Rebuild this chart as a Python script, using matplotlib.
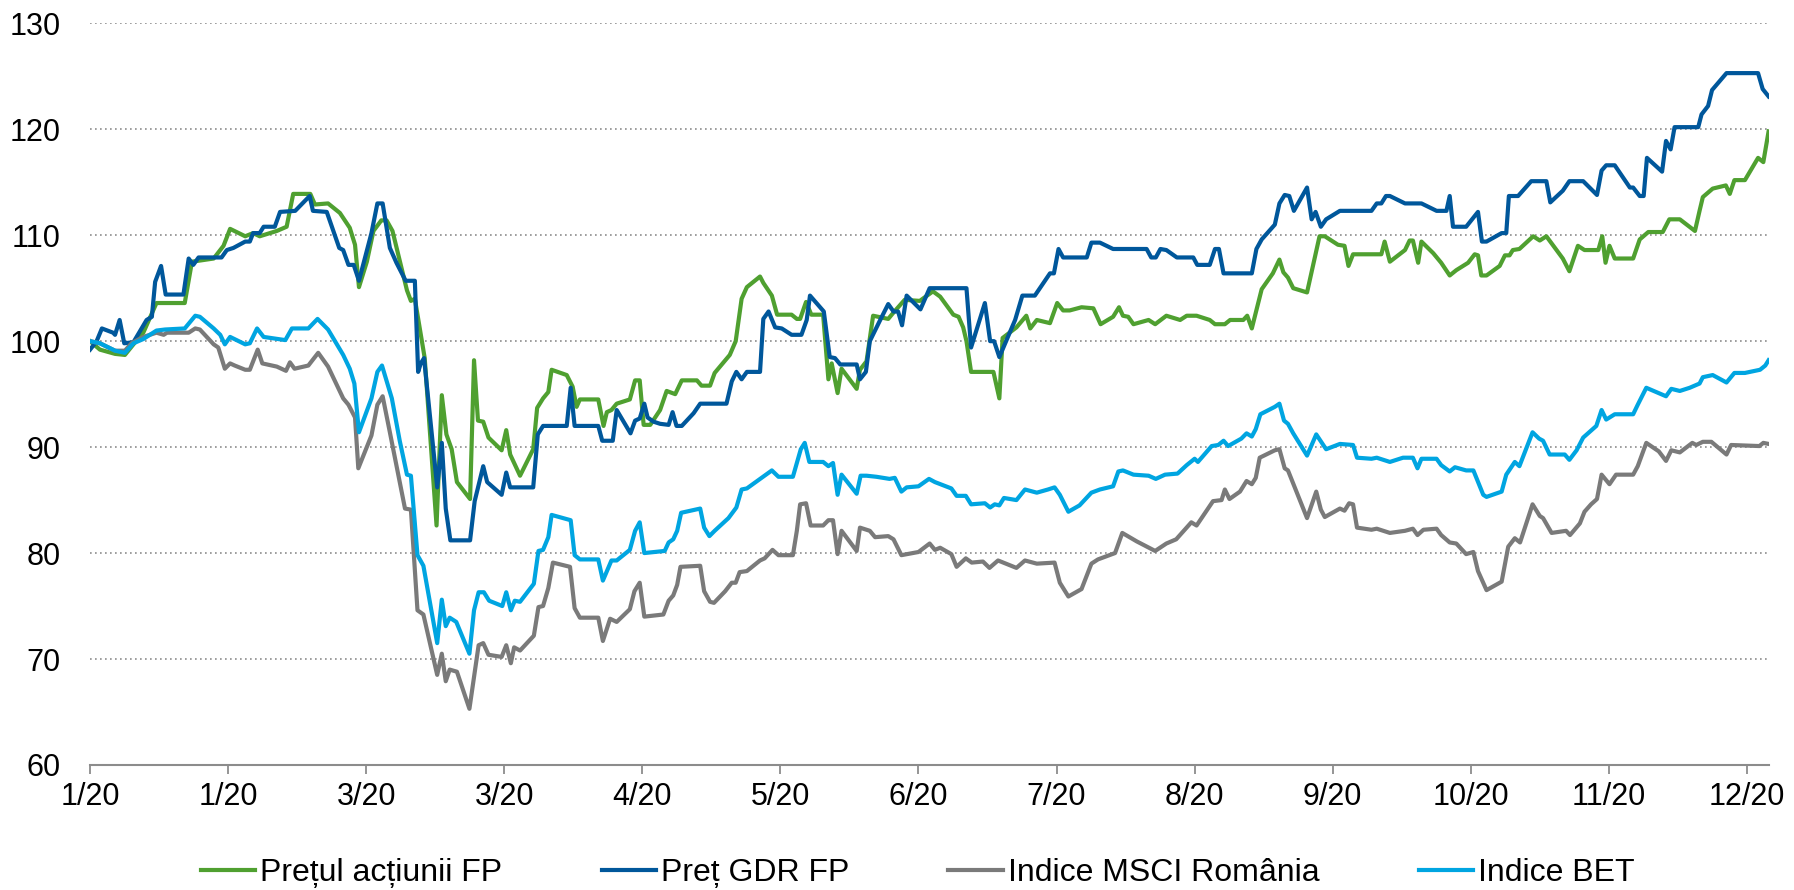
import matplotlib
matplotlib.use('Agg')
import matplotlib.pyplot as plt

# --- date (t = zi de tranzactionare, v = indice, baza 100) ---

# Pretul actiunii FP
fp_t = [0, 1.5, 3.8, 5.3, 6.6, 8.1, 10.1, 14.4, 15.5, 18.8, 20.3, 21.3, 23.6, 24.8, 25.8,
        28.4, 29.9, 30.9, 33.5, 34.2, 36.2, 38, 39.5, 40.3, 40.9, 42.1, 43.1, 44.3, 45.1, 46.0,
        48.2, 48.8, 49.4, 50.9, 52.7, 53.5, 54.2, 55, 55.8, 57.8, 58.4, 59, 59.8, 60.6, 62.6,
        63.3, 63.9, 65.4, 67.4, 68, 68.9, 69.7, 70.2, 72.5, 73.4, 74, 74.5, 77.3, 78.1, 78.6,
        79.3, 80.1, 82.1, 82.9, 83.6, 84.2, 85.2, 86.7, 87.7, 89, 90, 92.3, 93, 94.3, 95,
        97.3, 98.2, 99.1, 99.9, 101.9, 102.4, 103.7, 104.5, 106.7, 107.5, 108, 108.9, 109.7, 111.5, 112.3,
        112.8, 113.7, 114.3, 116.6, 117.1, 118.1, 119.1, 121.4, 122.2, 123.9, 126.2, 128.2, 129.3, 131.3, 132.1,
        132.8, 133.3, 134, 137.4, 138.3, 138.8, 140.9, 142.4, 143, 144, 146, 147.1, 148, 149, 150.8,
        152.6, 153.7, 155.6, 156.5, 157.1, 157.9, 158.7, 161, 162, 163.7, 165.8, 166.8, 168.3, 170.3, 171.1,
        172.6, 173.4, 175.4, 176, 176.7, 178.2, 179.9, 180.9, 181.5, 182.2, 183, 185.1, 187, 187.8, 189.8,
        190.8, 191.4, 192.1, 196.4, 196.9, 197.7, 200, 200.7, 201.2, 202, 202.5, 204.3, 205.5, 206.8, 207.8,
        209.6, 210.6, 211.1, 211.6, 212.4, 214.4, 215.2, 215.9, 216.4, 217.4, 219.5, 220.5, 221.5, 224, 225,
        226.3, 227.3, 229.4, 230, 230.5, 231.1, 231.9, 234.7, 235.7, 237, 239.2, 240.2, 241.8, 244.1, 244.8,
        245.3, 246.8, 248.8, 249.4, 250.1, 251.7, 253.7, 254.5, 255.3]
fp_v = [100, 99.2, 98.8, 98.7, 99.7, 100.8, 103.6, 103.6, 107.5, 107.8, 109, 110.6, 109.9, 110.2, 109.9,
        110.4, 110.8, 113.9, 113.9, 112.9, 113, 112.1, 110.7, 109.1, 105.1, 107.5, 110.4, 111.4, 111.4, 110.4,
        104.8, 103.8, 104, 98.4, 82.6, 94.9, 91.2, 89.8, 86.7, 85.1, 98.2, 92.5, 92.4, 90.9, 89.7,
        91.6, 89.3, 87.3, 89.8, 93.7, 94.6, 95.2, 97.3, 96.8, 95.7, 93.8, 94.5, 94.5, 92, 93.3,
        93.5, 94.1, 94.5, 96.3, 96.3, 92.1, 92.1, 93.5, 95.3, 95, 96.3, 96.3, 95.8, 95.8, 97,
        98.7, 100, 104, 105.1, 106.1, 105.5, 104.3, 102.5, 102.5, 102.1, 102.1, 103.7, 102.5, 102.5, 96.4,
        97.9, 95.1, 97.4, 95.5, 97.3, 98.1, 102.4, 102.1, 102.7, 103.9, 103.8, 104.7, 104.2, 102.5, 102.3,
        101.3, 100, 97.1, 97.1, 94.6, 100.3, 101.3, 102.4, 101.2, 102, 101.7, 103.6, 102.9, 102.9, 103.2,
        103.1, 101.6, 102.3, 103.2, 102.4, 102.3, 101.6, 102, 101.6, 102.4, 102, 102.4, 102.4, 102, 101.6,
        101.6, 102, 102, 102.4, 101.2, 104.9, 106.4, 107.7, 106.5, 106, 105, 104.6, 109.9, 109.9, 109.1,
        109, 107.1, 108.2, 108.2, 109.4, 107.5, 108.6, 109.5, 109.5, 107.4, 109.4, 108.3, 107.4, 106.2, 106.7,
        107.4, 108.2, 108.1, 106.2, 106.2, 107.1, 108.1, 108.1, 108.6, 108.7, 109.9, 109.5, 109.9, 107.8, 106.6,
        109, 108.6, 108.6, 109.9, 107.4, 109, 107.8, 107.8, 109.6, 110.3, 110.3, 111.5, 111.5, 110.4, 112.3,
        113.6, 114.4, 114.7, 113.9, 115.2, 115.2, 117.3, 116.9, 119.8]

# Pret GDR FP
gdr_t = [0, 1, 1.8, 3.5, 3.8, 4.5, 5.2, 6.6, 8.6, 9.4, 9.9, 10.8, 11.5, 14.2, 15,
         15.7, 16.5, 20, 20.8, 21.8, 23.6, 24.3, 24.8, 25.8, 26.4, 28.1, 28.9, 31.2, 33.4, 33.9,
         36, 37.9, 38.5, 39.3, 40.1, 40.9, 42.8, 43.7, 44.5, 45.6, 46.6, 48, 49.4, 49.9, 50.3,
         50.8, 52.8, 53.5, 54.1, 54.8, 57.8, 58.5, 59.8, 60.4, 62.6, 63.3, 63.9, 67.4, 68.1, 68.9,
         72.5, 73.1, 73.7, 77.3, 77.9, 79.5, 80.1, 82.2, 82.9, 83.6, 84.3, 84.8, 85.7, 86.7, 88,
         88.6, 89.2, 90, 91.8, 92.8, 96.8, 97.6, 98.3, 99.1, 99.9, 101.9, 102.4, 103.2, 104.2, 105.2,
         106.7, 108.2, 109, 109.5, 111.6, 112.5, 113.3, 114.1, 116.6, 117.1, 118, 118.6, 120.1, 121.4, 122.2,
         122.9, 123.5, 124.2, 126.3, 127.7, 133.3, 134, 136.1, 136.9, 137.5, 138.3, 140.7, 141.8, 143.7, 146,
         146.6, 147.3, 148, 151.6, 152.3, 153.6, 155.6, 160.7, 161.4, 162.1, 162.8, 163.7, 165.3, 167.8, 168.4,
         170.3, 171.1, 171.7, 172.4, 176.7, 177.4, 178.2, 180.2, 180.9, 181.7, 182.4, 183.1, 185.1, 185.8, 186.4,
         187.2, 188, 190.1, 194.9, 195.7, 196.4, 197.1, 197.7, 200, 202.5, 204.8, 206.3, 206.8, 207.3, 209.3,
         211.1, 211.7, 212.4, 214.7, 215.4, 215.8, 217.2, 219.2, 221.5, 222.1, 224, 225, 227.1, 229.2, 229.9,
         230.6, 231.9, 234.2, 234.7, 235.7, 236.3, 236.8, 239.1, 239.7, 240.4, 241, 244.6, 245.1, 246.1, 246.7,
         248.9, 253.7, 254.4, 255.3]
gdr_v = [99.2, 100, 101.2, 100.8, 100.6, 102, 99.8, 99.9, 102, 102.3, 105.6, 107.1, 104.4, 104.4, 107.8,
         107.2, 107.9, 107.9, 108.6, 108.8, 109.4, 109.4, 110.2, 110.2, 110.8, 110.8, 112.2, 112.3, 113.7, 112.3,
         112.2, 108.8, 108.6, 107.2, 107.2, 105.7, 110.2, 113, 113, 108.8, 107.4, 105.7, 105.7, 97.1, 97.9,
         98.4, 86.2, 90.4, 84.2, 81.2, 81.2, 84.9, 88.2, 86.7, 85.5, 87.6, 86.2, 86.2, 91.2, 92,
         92, 95.6, 92, 92, 90.6, 90.6, 93.5, 91.3, 92.5, 92.7, 94.1, 92.8, 92.4, 92.2, 92.1,
         93.3, 92, 92, 93.2, 94.1, 94.1, 96.2, 97.1, 96.4, 97.1, 97.1, 102.1, 102.8, 101.3, 101.2,
         100.6, 100.6, 102, 104.3, 102.8, 98.5, 98.4, 97.8, 97.8, 96.4, 97.1, 100, 101.9, 103.5, 102.8,
         102.8, 101.5, 104.3, 103, 105, 105, 99.4, 103.6, 100, 100, 98.5, 102, 104.3, 104.3, 106.4,
         106.4, 108.7, 107.9, 107.9, 109.3, 109.3, 108.7, 108.7, 107.9, 107.9, 108.7, 108.6, 107.9, 107.9, 107.2,
         107.2, 108.7, 108.7, 106.4, 106.4, 108.7, 109.6, 111, 113, 113.8, 113.7, 112.3, 114.5, 111.5, 112.2,
         110.8, 111.5, 112.3, 112.3, 113, 113, 113.7, 113.7, 113, 113, 112.3, 112.3, 113.7, 110.8, 110.8,
         112.2, 109.4, 109.4, 110.2, 110.2, 113.7, 113.7, 115.1, 115.1, 113.1, 114.2, 115.1, 115.1, 113.8, 116.1,
         116.6, 116.6, 114.5, 114.5, 113.7, 113.7, 117.3, 116, 118.9, 118.1, 120.2, 120.2, 121.4, 122.2, 123.7,
         125.3, 125.3, 123.8, 123.1]

# Indice MSCI Romania
msci_t = [0, 1.5, 3.8, 5.3, 6.3, 8.1, 10.1, 11.2, 11.7, 15, 16, 16.7, 18.8, 19.5, 20.5,
          21.3, 22, 23.6, 24.3, 25.5, 26.2, 28.4, 29.8, 30.4, 31.1, 33.2, 34.7, 36.2, 38.5, 39.3,
          40.3, 40.8, 42.8, 43.7, 44.5, 45.6, 47.9, 48.8, 49.8, 50.7, 52.8, 53.5, 54.1, 54.7, 55.8,
          57.7, 58.5, 59.1, 59.8, 60.6, 62.6, 63.3, 64, 64.5, 65.4, 67.5, 68.2, 68.9, 69.7, 70.4,
          73, 73.7, 74.5, 77.3, 78, 79.1, 80.1, 82.1, 82.8, 83.6, 84.3, 87.2, 88, 88.7, 89.3,
          89.8, 92.8, 93.4, 94.3, 94.9, 96.6, 97.6, 98.2, 98.8, 99.9, 101.9, 102.6, 103.8, 104.7, 106.9,
          107.5, 108, 108.9, 109.6, 111.5, 112.3, 113, 113.7, 114.3, 116.6, 117.1, 118.6, 119.4, 121.4, 122.2,
          123.4, 126, 127.7, 128.5, 129.3, 131, 131.8, 133.2, 134.1, 135.8, 136.8, 138.1, 140.9, 142.2, 144,
          146.7, 147.5, 148.8, 150.8, 152.3, 153.3, 155.9, 157, 159.2, 162, 163.7, 165.2, 167.5, 168.3, 170.8,
          172.1, 172.6, 173.3, 174.9, 175.9, 176.7, 177.3, 177.9, 180.2, 180.9, 181.7, 182.2, 185.1, 186.5, 187.2,
          187.8, 190.1, 190.8, 191.5, 192.1, 192.7, 194.9, 195.7, 197.7, 200, 201.2, 201.9, 202.8, 204.8, 205.5,
          206.8, 207.8, 209.3, 210.4, 211.1, 212.4, 214.7, 215.7, 216.7, 217.5, 219.4, 220.5, 221, 222.3, 224.5,
          225.1, 226.6, 227.3, 228.3, 229.2, 229.9, 231.1, 232.1, 234.7, 235.4, 236.7, 238.6, 239.7, 240.5, 241.8,
          243.7, 244.3, 245.3, 246.6, 248.9, 249.6, 253.9, 254.5, 255.3]
msci_v = [100, 99.8, 99.1, 99.1, 99.8, 100.4, 100.8, 100.6, 100.8, 100.8, 101.2, 101.1, 99.7, 99.4, 97.4,
          97.9, 97.7, 97.3, 97.3, 99.2, 97.9, 97.6, 97.2, 98, 97.4, 97.7, 98.9, 97.6, 94.6, 94,
          92.8, 88, 91.1, 94, 94.8, 91.4, 84.2, 84.1, 74.6, 74.2, 68.5, 70.5, 67.9, 69, 68.8,
          65.3, 68.7, 71.3, 71.5, 70.4, 70.2, 71.3, 69.6, 71.1, 70.8, 72.2, 74.9, 75, 76.7, 79.1,
          78.7, 74.8, 73.9, 73.9, 71.7, 73.8, 73.5, 74.7, 76.4, 77.2, 74, 74.2, 75.5, 76, 77,
          78.7, 78.8, 76.4, 75.4, 75.3, 76.4, 77.2, 77.2, 78.2, 78.3, 79.3, 79.5, 80.3, 79.8, 79.8,
          82.1, 84.6, 84.7, 82.6, 82.6, 83.1, 83.1, 79.9, 82.1, 80.2, 82.4, 82.1, 81.5, 81.6, 81.3,
          79.8, 80.1, 80.9, 80.3, 80.5, 79.9, 78.7, 79.5, 79.1, 79.2, 78.6, 79.3, 78.6, 79.3, 79,
          79.1, 77.2, 75.9, 76.6, 79, 79.4, 80, 81.9, 81.1, 80.2, 80.9, 81.3, 82.9, 82.6, 84.9,
          85, 86, 85.1, 85.8, 86.8, 86.5, 87.1, 89, 89.7, 89.8, 88, 87.8, 83.3, 85.8, 84.1,
          83.4, 84.2, 84, 84.7, 84.6, 82.4, 82.2, 82.3, 81.9, 82.1, 82.3, 81.7, 82.2, 82.3, 81.7,
          81, 80.9, 79.9, 80.1, 78.3, 76.5, 77.3, 80.6, 81.4, 81, 84.6, 83.5, 83.3, 81.9, 82.1,
          81.7, 82.8, 83.9, 84.6, 85.1, 87.4, 86.5, 87.4, 87.4, 88.2, 90.4, 89.6, 88.7, 89.7, 89.5,
          90.4, 90.2, 90.5, 90.5, 89.3, 90.2, 90.1, 90.4, 90.3]

# Indice BET
bet_t = [0, 1.5, 3.8, 5.3, 6.6, 8.1, 10.1, 11.4, 14.4, 16, 16.7, 18.8, 19.8, 20.5, 21.3,
         23.6, 24.3, 25.4, 26.4, 29.7, 30.7, 33.2, 34.6, 36.2, 38.5, 39.5, 40.2, 40.9, 42.8, 43.7,
         44.4, 45.9, 47.1, 48.2, 48.8, 49.8, 50.7, 52.8, 53.5, 54.1, 54.7, 55.7, 57.7, 58.4, 59.1,
         59.9, 60.7, 62.7, 63.3, 64, 64.6, 65.4, 67.5, 68.2, 68.9, 69.7, 70.2, 73.1, 73.7, 74.5,
         77.3, 78, 79.3, 80.1, 82.1, 82.9, 83.6, 84.3, 87.4, 88, 88.7, 89.3, 89.9, 92.8, 93.4,
         94.2, 95, 97.1, 98.3, 99.1, 99.9, 101.9, 103.7, 104.7, 106.9, 107.5, 108.1, 108.7, 109.4, 111.5,
         112.3, 113, 113.7, 114.3, 116.6, 117.2, 118.1, 119.6, 121.6, 122.4, 123.4, 124.2, 126, 127.6, 128.5,
         131, 131.8, 133.2, 134, 136.1, 136.9, 137.6, 138.3, 139, 140.9, 142.2, 144, 145.7, 146.7, 147.5,
         148.8, 150.5, 152.3, 153.6, 155.6, 156.4, 157.1, 158.7, 161, 162.1, 163.5, 165.4, 166.8, 168, 168.5,
         170.6, 171.6, 172.4, 173.1, 175.1, 175.9, 176.7, 177.3, 178, 180.2, 180.9, 181.6, 182.2, 183, 185.1,
         186.5, 188, 190.1, 192.1, 192.7, 194.9, 195.7, 197.7, 199.7, 201.2, 201.9, 202.5, 204.8, 205.5, 206.8,
         207.6, 209.3, 210.4, 211.9, 212.4, 214.7, 215.4, 216.7, 217.4, 219.4, 220.4, 221, 222, 224.3, 225,
         226.1, 227.1, 229.1, 229.9, 230.6, 231.9, 234.7, 235.4, 236.7, 239.7, 240.5, 241.8, 243.3, 244.8, 245.3,
         246.8, 248.9, 250.1, 251.7, 254, 254.8, 255.3]
bet_v = [100, 99.8, 99.1, 98.9, 99.8, 100.2, 101, 101.1, 101.2, 102.4, 102.3, 101.2, 100.6, 99.7, 100.4,
         99.7, 99.8, 101.2, 100.4, 100.1, 101.2, 101.2, 102.1, 101.1, 98.7, 97.4, 96, 91.4, 94.6, 97.1,
         97.7, 94.6, 90.6, 87.4, 87.3, 79.8, 78.8, 71.5, 75.6, 73.1, 73.9, 73.5, 70.5, 74.6, 76.3,
         76.3, 75.5, 75, 76.3, 74.6, 75.5, 75.4, 77.1, 80.2, 80.3, 81.5, 83.6, 83.1, 79.8, 79.4,
         79.4, 77.4, 79.3, 79.3, 80.3, 82.1, 82.9, 80, 80.2, 81, 81.3, 82.1, 83.8, 84.2, 82.4,
         81.6, 82.1, 83.3, 84.3, 86, 86.1, 87, 87.8, 87.2, 87.2, 88.5, 89.8, 90.4, 88.6, 88.6,
         88.2, 88.5, 85.5, 87.4, 85.6, 87.3, 87.3, 87.2, 87, 87.1, 85.8, 86.2, 86.3, 87, 86.7,
         86.1, 85.4, 85.4, 84.6, 84.7, 84.3, 84.6, 84.5, 85.2, 85, 86, 85.7, 86, 86.2, 85.5,
         83.9, 84.5, 85.7, 86, 86.3, 87.7, 87.8, 87.4, 87.3, 87, 87.4, 87.5, 88.3, 88.9, 88.6,
         90.1, 90.2, 90.6, 90.1, 90.8, 91.3, 91, 91.7, 93.1, 93.8, 94.1, 92.5, 92.2, 91.3, 89.2,
         91.2, 89.8, 90.3, 90.2, 89, 88.9, 89, 88.6, 89, 89, 88, 88.9, 88.9, 88.3, 87.7,
         88.1, 87.8, 87.8, 85.5, 85.3, 85.8, 87.4, 88.6, 88.2, 91.4, 90.8, 90.6, 89.3, 89.3, 88.8,
         89.7, 90.9, 92, 93.5, 92.6, 93.1, 93.1, 94, 95.6, 94.8, 95.5, 95.3, 95.6, 96, 96.6,
         96.8, 96.1, 97, 97, 97.3, 97.7, 98.2]

tick_labels = ['1/20', '1/20', '3/20', '3/20', '4/20', '5/20', '6/20', '7/20',
               '8/20', '9/20', '10/20', '11/20', '12/20']
tick_pos = [21 * i for i in range(len(tick_labels))]

plt.rcParams['font.family'] = ['Liberation Sans', 'DejaVu Sans']

fig = plt.figure(figsize=(17.94, 8.9), dpi=100)
ax = fig.add_axes([0.0502, 0.1405, 0.9360, 0.8333])

lw = 3.0
ax.plot(fp_t, fp_v, color='#4FA030', lw=lw, label='Prețul acțiunii FP')
ax.plot(gdr_t, gdr_v, color='#00579B', lw=lw, label='Preț GDR FP')
ax.plot(msci_t, msci_v, color='#7A7A7A', lw=lw, label='Indice MSCI România')
ax.plot(bet_t, bet_v, color='#00A5E1', lw=lw, label='Indice BET')

ax.set_xlim(0, 255.4)
ax.set_ylim(60, 130)
ax.set_yticks(range(60, 131, 10))
ax.set_xticks(tick_pos)
ax.set_xticklabels(tick_labels)

ax.grid(axis='y', linestyle=(0, (1, 2)), color='#8C8C8C', lw=1.2)
ax.set_axisbelow(True)

for s in ['top', 'right', 'left']:
    ax.spines[s].set_visible(False)
ax.spines['bottom'].set_color('#8C8C8C')
ax.spines['bottom'].set_linewidth(1.5)

ax.tick_params(axis='x', length=6.5, width=1.3, color='#8C8C8C', pad=6, labelsize=22)
ax.tick_params(axis='y', length=0, pad=21, labelsize=22)

fig.legend(loc='center', bbox_to_anchor=(0.5116, 0.019), ncol=4, frameon=False,
           fontsize=23, handlelength=1.7, handletextpad=0.16, columnspacing=3.1,
           borderpad=0, borderaxespad=0)

fig.savefig('out.png', dpi=100)
